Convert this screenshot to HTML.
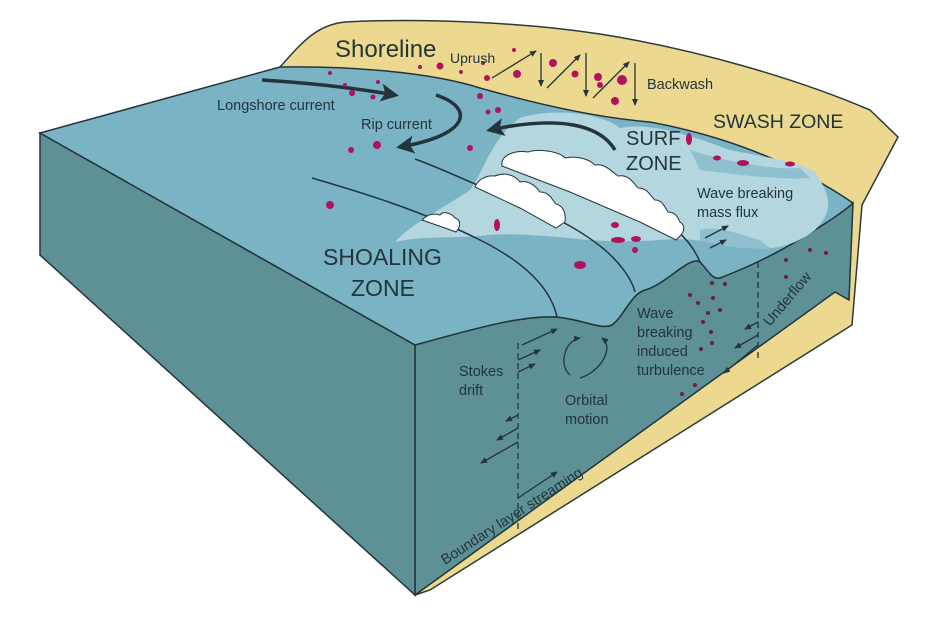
<!DOCTYPE html>
<html><head><meta charset="utf-8"><style>
html,body{margin:0;padding:0;background:#fff;}
svg{display:block;font-family:"Liberation Sans",sans-serif;}
</style></head><body>
<svg width="940" height="633" viewBox="0 0 940 633" xmlns="http://www.w3.org/2000/svg">
<defs>
<marker id="ah" markerWidth="8" markerHeight="8" refX="6" refY="3" orient="auto" markerUnits="userSpaceOnUse"><path d="M0,0 L7,3 L0,6 Z" fill="#23343c"/></marker>
<marker id="big" markerWidth="24" markerHeight="24" refX="14" refY="9" orient="auto" markerUnits="userSpaceOnUse"><path d="M0,0 L18,9 L0,18 L4,9 Z" fill="#23343c"/></marker>
</defs>
<!-- sand -->
<path d="M280,67 C300,45 315,25 345,22 C420,18 520,22 600,34 C700,50 800,80 870,110 L898,137 L862,205 L852,325 L430,590 L415,595 Z" fill="#ecd98f" stroke="#2a3a3a" stroke-width="1.5"/>
<!-- right face -->
<path d="M415,345 C470,330 520,315 557,317 C585,320 600,330 612,325 C625,315 630,295 645,290 C665,285 690,255 700,262 C708,270 712,280 720,278 C740,270 760,262 790,245 C815,230 840,215 853,203 L849,300 L835,292 L415,595 Z" fill="#5e9196" stroke="#22353c" stroke-width="1.5"/>
<!-- left face -->
<path d="M40,133 L415,345 L415,595 L40,255 Z" fill="#5e9196" stroke="#22353c" stroke-width="1.5"/>
<!-- top water -->
<path d="M40,133 L280,67 C350,66 430,72 480,88 C540,105 600,118 650,122 C720,135 790,160 853,203 C840,215 815,230 790,245 C760,262 740,270 720,278 C712,280 708,270 700,262 C690,255 665,285 645,290 C630,295 625,315 612,325 C600,330 585,320 557,317 C520,315 470,330 415,345 Z" fill="#7ab3c4" stroke="#22353c" stroke-width="1.5"/>
<!-- foam -->
<path d="M395,242 C410,225 440,210 470,190 C485,170 490,140 520,118 C550,108 600,112 620,128 C650,122 690,135 730,150 C770,158 800,162 815,172 C830,195 835,210 815,230 C790,250 760,252 730,245 C700,240 685,238 660,240 C630,242 600,242 570,238 C540,236 510,232 480,236 C450,238 420,236 395,242 Z" fill="#b3d6df"/>
<path d="M690,150 C720,160 770,170 800,168 L810,178 C780,180 740,175 700,170 Z" fill="#8fc0cf"/>
<path d="M700,230 C720,225 740,235 760,240 L770,248 C740,250 715,245 700,240 Z" fill="#8fc0cf"/>
<!-- surface lines -->
<g fill="none" stroke="#22353c" stroke-width="1.5">
<path d="M312,178 C360,192 420,210 480,240 C520,260 550,285 557,317"/>
<path d="M415,159 C440,168 470,182 500,195 C540,210 575,225 605,250 C622,265 632,280 635,292"/>
<path d="M676,230 C688,240 695,250 700,262"/>
</g>
<!-- whitecaps -->
<g fill="#fff" stroke="#22353c" stroke-width="1">
<path d="M502,166 C500,155 515,150 528,152 C540,148 560,152 565,158 C578,155 590,160 595,165 C605,163 612,172 618,176 C628,174 633,182 638,188 C648,188 650,196 655,200 C663,200 665,208 668,212 C676,212 678,218 680,222 C686,226 684,232 680,236 L676,240 L640,222 L570,192 Z"/>
<path d="M475,187 C478,180 485,175 495,176 C505,172 515,175 520,182 C530,180 537,188 540,192 C550,192 552,200 556,204 C564,206 566,214 565,222 L556,228 L520,208 Z"/>
<path d="M422,220 C428,214 433,213 440,215 C444,210 452,214 455,218 C462,220 460,228 456,232 L445,228 Z"/>
</g>
<!-- big arrows -->
<g fill="none" stroke="#23343c" stroke-width="3.5">
<path d="M262,80 C310,83 355,88 395,95" marker-end="url(#big)"/>
<path d="M436,95 C475,108 470,135 400,147" marker-end="url(#big)"/>
<path d="M615,150 C600,125 560,115 490,130" marker-end="url(#big)"/>
</g>
<!-- swash arrows -->
<g stroke="#23343c" stroke-width="1.3" fill="none" marker-end="url(#ah)">
<path d="M492,78 L536,51"/><path d="M541,53 L541,86"/>
<path d="M547,88 L580,55"/><path d="M586,53 L586,96"/>
<path d="M593,98 L629,62"/><path d="M635,63 L635,105"/>
<path d="M705,238 L728,226"/><path d="M710,248 L726,240"/>
<path d="M522,345 L557,329"/><path d="M518,360 L540,350"/><path d="M518,372 L535,364"/>
<path d="M518,415 L506,421"/><path d="M518,428 L497,440"/><path d="M518,442 L481,463"/>
<path d="M518,498 L557,472"/>
<path d="M758,322 L745,329"/><path d="M758,335 L735,348"/><path d="M758,345 L724,373"/>
<path d="M570,375 C558,365 565,340 580,338"/>
<path d="M580,378 C600,372 615,348 602,338"/>
</g>
<g stroke="#23343c" stroke-width="1.3" stroke-dasharray="6,4">
<line x1="518" y1="343" x2="518" y2="530"/><line x1="758" y1="262" x2="758" y2="360"/>
</g>
<!-- particles -->
<g fill="#b0125e">
<circle cx="330" cy="73" r="2"/><circle cx="345" cy="85" r="2"/><circle cx="352" cy="93" r="3"/><circle cx="373" cy="97" r="2.5"/><circle cx="378" cy="82" r="2"/><circle cx="420" cy="67" r="2"/><circle cx="440" cy="66" r="3.5"/><circle cx="461" cy="72" r="2"/><circle cx="483" cy="63" r="2"/>
<circle cx="514" cy="50" r="2"/><circle cx="517" cy="74" r="4"/><circle cx="553" cy="63" r="4"/><circle cx="575" cy="74" r="3.5"/><circle cx="598" cy="77" r="4"/><circle cx="622" cy="80" r="5"/><circle cx="615" cy="101" r="4"/><circle cx="600" cy="85" r="3"/><circle cx="487" cy="78" r="3"/><circle cx="480" cy="96" r="3"/><circle cx="488" cy="112" r="2.5"/>
<circle cx="351" cy="150" r="3"/><circle cx="377" cy="145" r="4"/><circle cx="470" cy="148" r="3"/><circle cx="330" cy="205" r="4"/><circle cx="498" cy="110" r="3"/>
<ellipse cx="689" cy="139" rx="3" ry="6"/><ellipse cx="717" cy="158" rx="4" ry="2.5"/><ellipse cx="743" cy="163" rx="6" ry="3"/><ellipse cx="790" cy="164" rx="5" ry="2.5"/>
<ellipse cx="497" cy="225" rx="3" ry="6"/><ellipse cx="580" cy="265" rx="6" ry="4"/><ellipse cx="615" cy="225" rx="4" ry="3"/><ellipse cx="618" cy="240" rx="7" ry="3"/><ellipse cx="636" cy="239" rx="5" ry="3"/><ellipse cx="635" cy="250" rx="3" ry="3"/>
</g>
<g fill="#6e1a4a">
<circle cx="690" cy="295" r="2"/><circle cx="712" cy="283" r="2"/><circle cx="725" cy="284" r="2"/><circle cx="698" cy="303" r="2"/><circle cx="713" cy="298" r="2"/><circle cx="708" cy="313" r="2"/><circle cx="720" cy="310" r="2"/><circle cx="703" cy="322" r="2"/><circle cx="711" cy="332" r="2"/><circle cx="712" cy="343" r="2"/><circle cx="701" cy="349" r="2"/><circle cx="695" cy="385" r="2"/><circle cx="682" cy="394" r="2"/><circle cx="786" cy="277" r="2"/><circle cx="786" cy="260" r="2"/><circle cx="826" cy="253" r="2"/><circle cx="810" cy="250" r="2"/>
</g>
<!-- text -->
<g fill="#23343c">
<text x="335" y="57" font-size="24">Shoreline</text>
<text x="450" y="63" font-size="14">Uprush</text>
<text x="647" y="89" font-size="14.5">Backwash</text>
<text x="713" y="128" font-size="19.5">SWASH ZONE</text>
<text x="217" y="110" font-size="14.5">Longshore current</text>
<text x="361" y="129" font-size="14.5">Rip current</text>
<text x="626" y="145" font-size="20">SURF</text>
<text x="626" y="170" font-size="20">ZONE</text>
<text x="697" y="198" font-size="14.5">Wave breaking</text>
<text x="697" y="217" font-size="14.5">mass flux</text>
<text x="323" y="265" font-size="23">SHOALING</text>
<text x="351" y="296" font-size="23">ZONE</text>
<text x="459" y="376" font-size="14.5">Stokes</text>
<text x="459" y="395" font-size="14.5">drift</text>
<text x="565" y="405" font-size="14.5">Orbital</text>
<text x="565" y="424" font-size="14.5">motion</text>
<text x="637" y="318" font-size="14.5">Wave</text>
<text x="637" y="337" font-size="14.5">breaking</text>
<text x="637" y="356" font-size="14.5">induced</text>
<text x="637" y="375" font-size="14.5">turbulence</text>
<text x="770" y="327" font-size="14.5" transform="rotate(-50 770 327)">Underflow</text>
<text x="445" y="565" font-size="14.5" transform="rotate(-33 445 565)">Boundary layer streaming</text>
</g>
</svg>
</body></html>
